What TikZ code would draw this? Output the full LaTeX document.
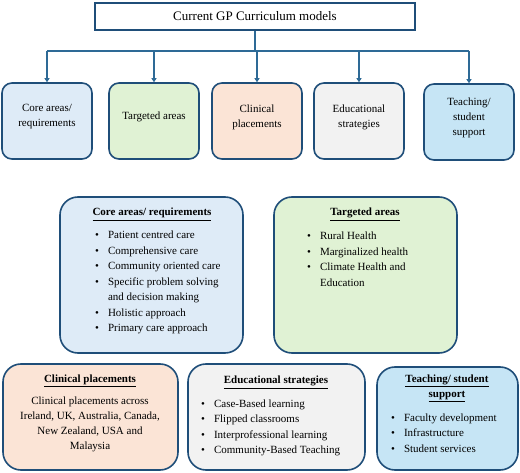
\documentclass[tikz,border=0pt]{standalone}
\usepackage{fontspec}
\setmainfont{Liberation Serif}
\usetikzlibrary{arrows.meta, positioning}

\definecolor{navy}{HTML}{1F4E79}
\definecolor{linkblue}{HTML}{2E6A96}
\definecolor{corefill}{HTML}{DEEBF7}
\definecolor{targfill}{HTML}{E0F2D4}
\definecolor{clinfill}{HTML}{FBE4D6}
\definecolor{edufill}{HTML}{F2F2F2}
\definecolor{teachfill}{HTML}{C6E5F5}

\tikzset{
  topbox/.style={draw=navy, line width=1.6pt, minimum width=320pt, minimum height=27pt, font=\fontsize{13}{16}\selectfont},
  smallbox/.style={draw=navy, line width=1.6pt, rounded corners=10pt, minimum width=90pt, minimum height=76pt},
  bigbox/.style={draw=navy, line width=1.6pt, rounded corners=18pt},
  boxtext/.style={inner sep=0pt, align=center, font=\fontsize{11}{15}\selectfont},
  items/.style={inner sep=0pt, anchor=base west, font=\fontsize{11}{15.5}\selectfont},
  link/.style={draw=linkblue, line width=1.3pt},
  linkarrow/.style={link, -{Triangle[length=4pt, width=5pt]}}
}
\newcommand{\heading}[1]{\textbf{\underline{#1}}}

\begin{document}
\begin{tikzpicture}[x=1pt, y=-1pt]
		\useasboundingbox (0,0) rectangle (520,473);
		% Top
		\node[topbox] (model) at (255,16.5) {Current GP Curriculum models};
		\coordinate (bus) at (255,51);

		% Small boxes
		\node[smallbox, fill=corefill] (core) at (47,121) {};
		\node[smallbox, fill=targfill] (targ) at (154,121) {};
		\node[smallbox, fill=clinfill] (clin) at (257,121) {};
		\node[smallbox, fill=edufill] (edu) at (359,121) {};
		\node[smallbox, fill=teachfill] (teach) at (469,122) {};

		\node[boxtext] (core_t) at ([yshift=4pt]core.center) {Core areas/\\requirements};
		\node[boxtext] (targ_t) at ([yshift=4pt]targ.center) {Targeted areas};
		\node[boxtext] (clin_t) at ([yshift=4pt]clin.center) {Clinical\\placements};
		\node[boxtext] (edu_t) at ([yshift=4pt]edu.center) {Educational\\strategies};
		\node[boxtext] (teach_t) at ([yshift=4pt]teach.center) {Teaching/\\student\\support};

		% Arrows
		\draw[link] (model.south) -- (bus);
		\draw[link] (core.north |- bus) -- (teach.north |- bus);
		\draw[linkarrow] (core.north |- bus) -- (core.north);
		\draw[linkarrow] (targ.north |- bus) -- (targ.north);
		\draw[linkarrow] (clin.north |- bus) -- (clin.north);
		\draw[linkarrow] (edu.north |- bus) -- (edu.north);
		\draw[linkarrow] (teach.north |- bus) -- (teach.north);

		% Detail boxes
		\node[bigbox, fill=corefill, minimum width=183pt, minimum height=156pt] (core_d) at (151.5,275) {};
		\node[bigbox, fill=targfill, minimum width=183pt, minimum height=156pt] (targ_d) at (365.5,275) {};
		\node[bigbox, fill=clinfill, minimum width=175pt, minimum height=106pt] (clin_d) at (90.5,417) {};
		\node[bigbox, fill=edufill, minimum width=177pt, minimum height=106pt] (edu_d) at (276.5,417) {};
		\node[bigbox, fill=teachfill, minimum width=141pt, minimum height=103pt] (teach_d) at (447.5,418.5) {};

		\node[boxtext, anchor=base] (core_h) at (152,216) {\heading{Core areas/ requirements}};
		\node[items] (core_l) at (95,239) {\begin{tabular}[t]{@{}l@{\hspace{9pt}}l@{}}
			\textbullet & Patient centred care\\
			\textbullet & Comprehensive care\\
			\textbullet & Community oriented care\\
			\textbullet & Specific problem solving\\
			 & and decision making\\
			\textbullet & Holistic approach\\
			\textbullet & Primary care approach
		\end{tabular}};

		\node[boxtext, anchor=base] (targ_h) at (365,216) {\heading{Targeted areas}};
		\node[items] (targ_l) at (307,240) {\begin{tabular}[t]{@{}l@{\hspace{9pt}}l@{}}
			\textbullet & Rural Health\\
			\textbullet & Marginalized health\\
			\textbullet & Climate Health and\\
			 & Education
		\end{tabular}};

		\node[boxtext, anchor=base] (clin_h) at (90,382) {\heading{Clinical placements}};
		\node[boxtext, anchor=north] (clin_l) at (90,397) {Clinical placements across\\Ireland, UK, Australia, Canada,\\New Zealand, USA and\\Malaysia};

		\node[boxtext, anchor=base] (edu_h) at (276,384) {\heading{Educational strategies}};
		\node[items] (edu_l) at (201,407) {\begin{tabular}[t]{@{}l@{\hspace{9pt}}l@{}}
			\textbullet & Case-Based learning\\
			\textbullet & Flipped classrooms\\
			\textbullet & Interprofessional learning\\
			\textbullet & Community-Based Teaching
		\end{tabular}};

		\node[boxtext, anchor=north] (teach_h) at (447,375) {\heading{Teaching/ student}\\\heading{support}};
		\node[items] (teach_l) at (391,421) {\begin{tabular}[t]{@{}l@{\hspace{9pt}}l@{}}
			\textbullet & Faculty development\\
			\textbullet & Infrastructure\\
			\textbullet & Student services
		\end{tabular}};
	\end{tikzpicture}
\end{document}
